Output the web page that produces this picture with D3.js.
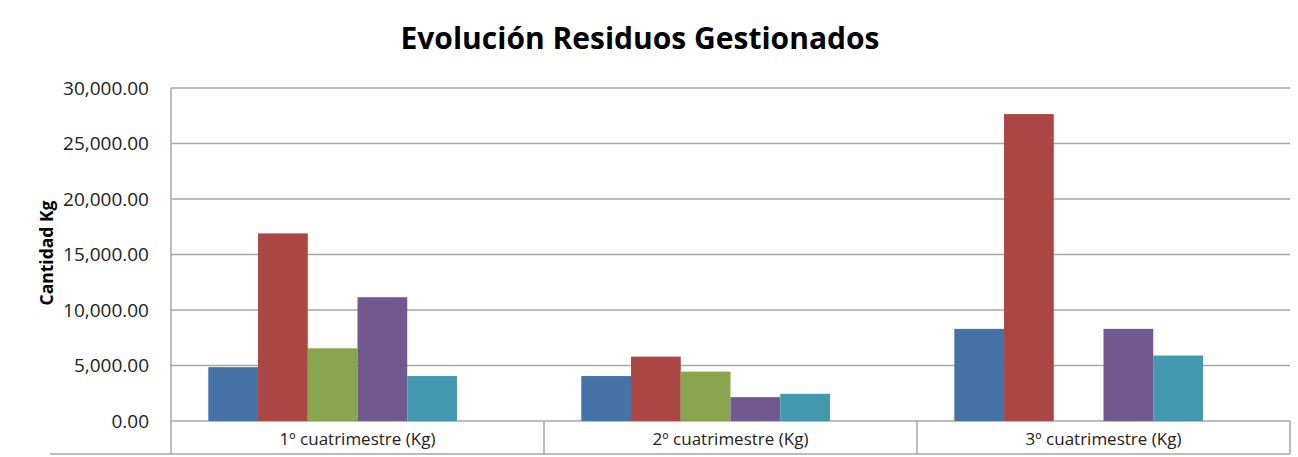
<!DOCTYPE html>
<html>
<head>
    <meta charset="UTF-8">
    <title>Evolución Residuos Gestionados</title>
    <script src="https://d3js.org/d3.v7.min.js"></script>
    <style>
        body { margin: 0; background: #fff; }
        svg { font-family: "Open Sans", sans-serif; display: block; }
    </style>
</head>
<body>
    <svg></svg>
    <script>
        const categories = ['1º cuatrimestre (Kg)', '2º cuatrimestre (Kg)', '3º cuatrimestre (Kg)'];
        const seriesNames = ['Serie 1', 'Serie 2', 'Serie 3', 'Serie 4', 'Serie 5', 'Serie 6'];
        const serie1 = [4850, 4050, 8300];
        const serie2 = [16900, 5800, 27650];
        const serie3 = [6550, 4450, null];
        const serie4 = [11150, 2150, 8300];
        const serie5 = [4050, 2450, 5900];
        const serie6 = [null, null, null];
        const yTicks = [0, 5000, 10000, 15000, 20000, 25000, 30000];
        const colors = ['#4572A7', '#AA4643', '#89A54E', '#71588F', '#4198AF', '#DB843D'];

        const allSeries = [serie1, serie2, serie3, serie4, serie5, serie6];
        const data = categories.map((c, i) => ({
            cat: c,
            values: seriesNames.map((s, j) => ({ key: s, value: allSeries[j][i] }))
        }));

        const W = 1298, H = 457;
        const plotLeft = 171, plotRight = 1290, plotTop = 88, base = 421, plotBottom = 454;

        const svg = d3.select('svg').attr('width', W).attr('height', H);

        const x0 = d3.scaleBand().domain(categories).range([plotLeft, plotRight]).padding(0);
        const x1 = d3.scaleBand().domain(seriesNames).range([0, x0.bandwidth()])
            .paddingInner(0).paddingOuter(0.75);
        const y = d3.scaleLinear().domain([0, 30000]).range([base, plotTop]);
        const color = d3.scaleOrdinal().domain(seriesNames).range(colors);

        // gridlines
        svg.append('g')
            .selectAll('line')
            .data(yTicks)
            .enter().append('line')
            .attr('x1', plotLeft).attr('x2', plotRight)
            .attr('y1', d => y(d)).attr('y2', d => y(d))
            .attr('stroke', '#a6a6a6').attr('stroke-width', 1.5);

        // bars
        const groups = svg.append('g')
            .selectAll('g')
            .data(data)
            .enter().append('g')
            .attr('transform', d => `translate(${x0(d.cat)},0)`);

        groups.selectAll('rect')
            .data(d => d.values.filter(v => v.value != null))
            .enter().append('rect')
            .attr('x', d => x1(d.key))
            .attr('y', d => y(d.value))
            .attr('width', x1.bandwidth())
            .attr('height', d => base - y(d.value))
            .attr('fill', d => color(d.key));

        // y axis
        const yAxis = svg.append('g')
            .attr('transform', `translate(${plotLeft},0)`)
            .call(d3.axisLeft(y).tickValues(yTicks).tickSize(0).tickPadding(22)
                .tickFormat(d3.format(',.2f')));
        yAxis.select('.domain').remove();
        yAxis.selectAll('text')
            .attr('font-family', '"Open Sans", sans-serif')
            .attr('font-size', '19px')
            .attr('fill', '#222');

        // axis frame
        svg.append('line')
            .attr('x1', plotLeft).attr('x2', plotLeft).attr('y1', plotTop).attr('y2', plotBottom)
            .attr('stroke', '#a6a6a6').attr('stroke-width', 1.5);
        svg.append('line')
            .attr('x1', 50).attr('x2', plotRight).attr('y1', plotBottom).attr('y2', plotBottom)
            .attr('stroke', '#a6a6a6').attr('stroke-width', 1.5);
        svg.append('g')
            .selectAll('line')
            .data(categories.slice(1).map(c => x0(c)).concat([plotRight]))
            .enter().append('line')
            .attr('x1', d => d).attr('x2', d => d)
            .attr('y1', base).attr('y2', plotBottom)
            .attr('stroke', '#a6a6a6').attr('stroke-width', 1.5);

        // category labels
        svg.append('g')
            .selectAll('text')
            .data(categories)
            .enter().append('text')
            .attr('x', d => x0(d) + x0.bandwidth() / 2)
            .attr('y', 439)
            .attr('dy', '0.35em')
            .attr('text-anchor', 'middle')
            .attr('font-size', '17px')
            .attr('fill', '#222')
            .text(d => d);

        // title
        svg.append('text')
            .attr('x', 640)
            .attr('y', 49)
            .attr('text-anchor', 'middle')
            .attr('font-size', '30px')
            .attr('font-weight', 'bold')
            .attr('fill', '#000')
            .text('Evolución Residuos Gestionados');

        // y axis title
        svg.append('text')
            .attr('transform', 'translate(47,253) rotate(-90)')
            .attr('text-anchor', 'middle')
            .attr('dy', '0.35em')
            .attr('font-size', '17.5px')
            .attr('font-weight', 'bold')
            .attr('fill', '#000')
            .text('Cantidad Kg');
    </script>
</body>
</html>
